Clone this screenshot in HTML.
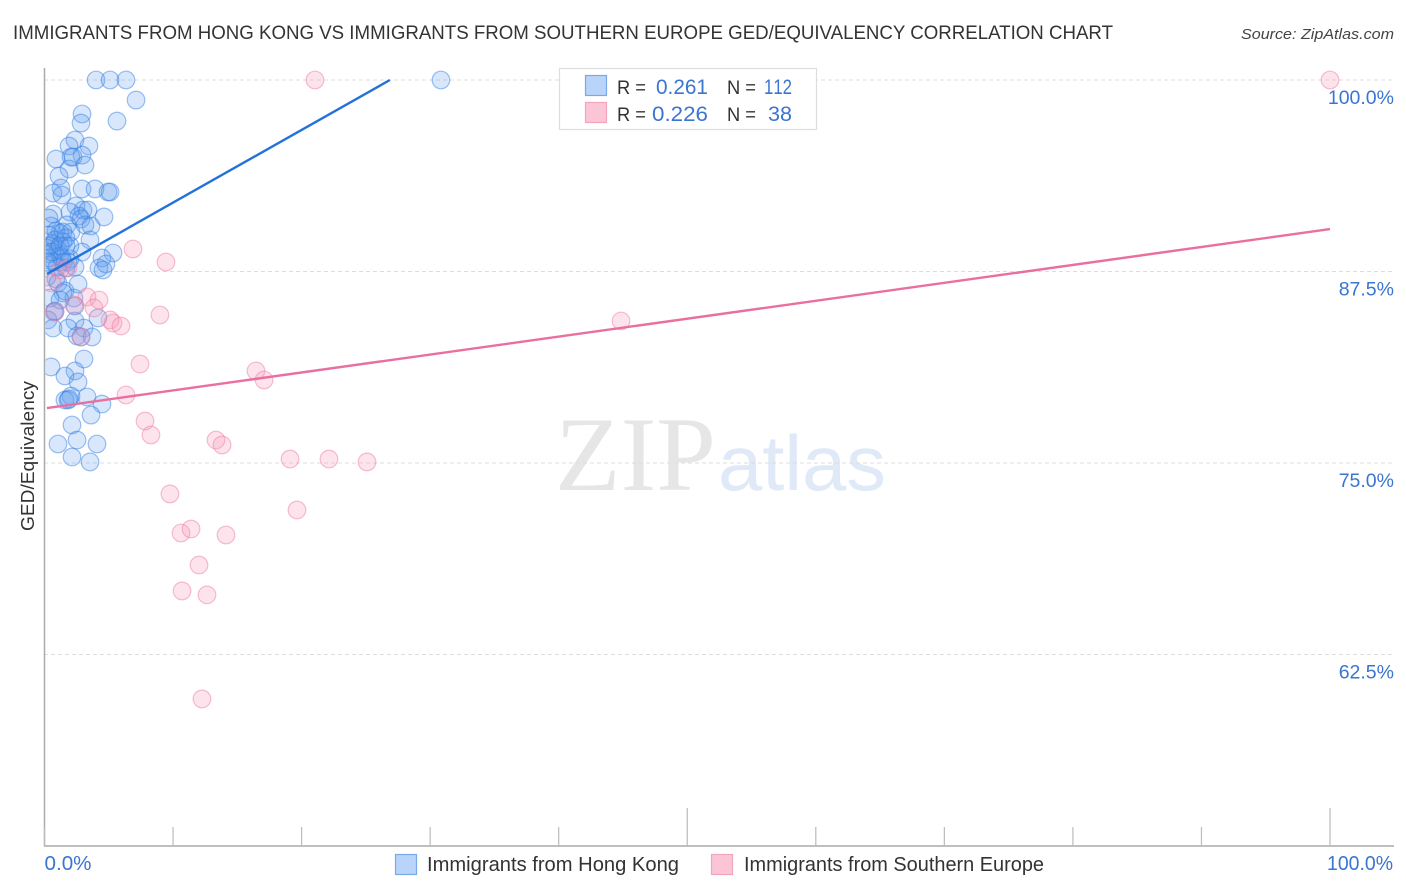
<!DOCTYPE html>
<html lang="en">
<head>
<meta charset="utf-8">
<title>GED/Equivalency Correlation Chart</title>
<style>
html,body{margin:0;padding:0;background:#fff;width:1406px;height:892px;overflow:hidden}
svg{display:block;font-family:"Liberation Sans",sans-serif}
</style>
</head>
<body>
<svg id="chart" width="1406" height="892" viewBox="0 0 1406 892" xmlns="http://www.w3.org/2000/svg">
  <defs>
    <clipPath id="plot-clip"><rect x="45.5" y="0" width="1360" height="846"/></clipPath>
  </defs>
  <rect width="1406" height="892" fill="#fff"/>
  <text x="13" y="39" font-size="19.5" fill="#333" textLength="1100" lengthAdjust="spacingAndGlyphs">IMMIGRANTS FROM HONG KONG VS IMMIGRANTS FROM SOUTHERN EUROPE GED/EQUIVALENCY CORRELATION CHART</text>
  <text x="1394" y="39" font-size="15" font-style="italic" fill="#444" text-anchor="end" textLength="153" lengthAdjust="spacingAndGlyphs">Source: ZipAtlas.com</text>
  <text x="555" y="490" font-family="'Liberation Serif',serif" font-size="106" fill="#e6e6e6" textLength="161" lengthAdjust="spacingAndGlyphs">ZIP</text>
  <text x="718" y="490" font-size="78" fill="#dfe9f7" textLength="168" lengthAdjust="spacingAndGlyphs">atlas</text>
  <g id="grid"></g>
  <g id="axes">
    <line x1="44.5" y1="68" x2="44.5" y2="846" stroke="#aaa" stroke-width="1.5"/>
    <line x1="44" y1="846" x2="1394" y2="846" stroke="#aaa" stroke-width="1.5"/>
  </g>
  <g id="x-ticks"></g>
  <g id="y-labels"></g>
  <g id="x-labels"></g>
  <g id="points-hk" clip-path="url(#plot-clip)"></g>
  <g id="points-se" clip-path="url(#plot-clip)"></g>
  <g id="trends"></g>
  <text transform="translate(34 456) rotate(-90)" font-size="18" fill="#333" text-anchor="middle" textLength="150" lengthAdjust="spacingAndGlyphs">GED/Equivalency</text>

  <g>
    <rect x="559.5" y="68.5" width="257" height="61" fill="#fff" stroke="#ddd" stroke-width="1.2"/>
    <rect x="585.5" y="75.5" width="21" height="20" fill="#b8d4f8" stroke="#7aaae6" stroke-width="1.2"/>
    <rect x="585.5" y="102.5" width="21" height="20" fill="#fcc5d6" stroke="#f2a6be" stroke-width="1.2"/>
    <text x="617" y="94" font-size="19.5" fill="#333" textLength="29" lengthAdjust="spacingAndGlyphs">R =</text>
    <text x="656" y="94" font-size="21.5" fill="#3a75d0" textLength="52" lengthAdjust="spacingAndGlyphs">0.261</text>
    <text x="727" y="94" font-size="19.5" fill="#333" textLength="29" lengthAdjust="spacingAndGlyphs">N =</text>
    <text x="764" y="94" font-size="21.5" fill="#3a75d0" style="font-kerning:none" textLength="28" lengthAdjust="spacingAndGlyphs">112</text>
    <text x="617" y="121" font-size="19.5" fill="#333" textLength="29" lengthAdjust="spacingAndGlyphs">R =</text>
    <text x="652" y="121" font-size="21.5" fill="#3a75d0" textLength="56" lengthAdjust="spacingAndGlyphs">0.226</text>
    <text x="727" y="121" font-size="19.5" fill="#333" textLength="29" lengthAdjust="spacingAndGlyphs">N =</text>
    <text x="768" y="121" font-size="21.5" fill="#3a75d0" textLength="24" lengthAdjust="spacingAndGlyphs">38</text>
  </g>

  <g>
    <rect x="395.5" y="854.5" width="21" height="20" fill="#b8d4f8" stroke="#7aaae6" stroke-width="1.2"/>
    <text x="427" y="871" font-size="20" fill="#333" textLength="252" lengthAdjust="spacingAndGlyphs">Immigrants from Hong Kong</text>
    <rect x="711.5" y="854.5" width="21" height="20" fill="#fcc5d6" stroke="#f2a6be" stroke-width="1.2"/>
    <text x="744" y="871" font-size="20" fill="#333" textLength="300" lengthAdjust="spacingAndGlyphs">Immigrants from Southern Europe</text>
  </g>
</svg>
<script>
const yTickValues = [100, 87.5, 75, 62.5];
const yTickLabels = ["100.0%", "87.5%", "75.0%", "62.5%"];
const xTickValues = [0, 10, 20, 30, 40, 50, 60, 70, 80, 90, 100];
const xEndLabels = ["0.0%", "100.0%"];

const hkX = [4.01,5.10,6.34,30.84,7.12,5.64,2.92,2.84,2.37,3.46,1.91,2.92,2.06,2.22,0.89,3.15,1.91,1.13,2.92,3.93,1.28,4.94,5.10,0.66,1.36,2.45,2.99,3.38,1.98,0.66,0.35,4.63,2.68,2.84,1.75,3.15,3.62,0.51,0.89,1.21,2.06,0.35,1.44,3.54,1.44,0.66,1.67,0.43,1.05,2.92,5.33,0.35,1.21,1.98,4.47,0.74,1.44,1.83,4.78,2.37,4.24,4.55,0.97,0.35,0.89,0.19,2.61,1.05,1.59,1.44,0.43,2.29,1.21,2.37,0.82,0.74,4.16,2.37,0.27,0.66,1.83,3.07,2.53,3.70,2.84,3.07,0.51,2.37,1.59,2.61,2.06,1.59,1.83,1.91,3.31,4.47,3.62,2.14,1.05,2.53,4.08,2.14,3.54,0.19,0.82,1.36,0.58,1.67,1.21,0.27,1.98,1.67];
const hkY = [100,100,100,100,98.69,97.32,97.78,97.19,96.08,95.69,95.69,95.10,94.97,94.97,94.84,94.45,94.19,93.73,92.89,92.89,92.95,92.69,92.69,92.62,92.49,91.78,91.51,91.51,91.38,91.25,90.99,91.06,91.12,90.93,90.54,90.54,90.47,90.47,90.14,90.01,90.08,89.88,90.08,89.56,89.43,89.30,89.17,89.17,88.90,88.77,88.71,88.64,88.51,88.32,88.38,88.12,88.12,88.12,87.99,87.79,87.73,87.60,87.79,88.38,87.01,87.14,86.68,86.75,86.23,86.10,85.77,85.77,85.64,85.25,84.92,84.86,84.47,84.27,84.34,83.81,83.81,83.81,83.29,83.23,83.23,81.79,81.27,81.01,80.68,80.29,79.37,79.11,79.11,79.18,79.31,78.85,78.13,77.48,76.24,76.50,76.24,75.39,75.07,89.03,89.56,88.38,88.77,89.69,89.17,88.12,89.17,87.73];

const seX = [21.04,100,6.88,9.45,1.21,1.83,0.58,3.31,4.24,2.29,3.85,8.98,5.10,5.33,5.95,0.82,2.84,44.85,7.43,16.45,17.08,6.34,7.82,8.28,13.34,13.81,19.10,22.13,25.09,9.76,19.64,10.62,11.40,14.12,12.02,10.70,12.64,12.25];
const seY = [100,100,88.97,88.12,87.60,87.73,86.75,85.84,85.64,85.31,85.12,84.66,84.34,84.14,83.94,84.86,83.23,84.27,81.46,81.01,80.42,79.44,77.74,76.83,76.50,76.18,75.26,75.26,75.07,72.98,71.93,70.43,70.69,70.30,68.34,66.65,66.39,59.60];

const hkTrendX = [0.19, 26.87];
const hkTrendY = [87.34, 100];
const seTrendX = [0.19, 100];
const seTrendY = [78.59, 90.27];

const NS = "http://www.w3.org/2000/svg";
function sx(v) { return 44.5 + v * 12.855; }
function sy(v) { return 80 + (100 - v) * 15.32; }
function make(tag, parentId) {
  const el = document.createElementNS(NS, tag);
  document.getElementById(parentId).appendChild(el);
  return el;
}

yTickValues.forEach(function (v, i) {
  const line = make("line", "grid");
  
  
  line.setAttribute("x1", 44);
  line.setAttribute("x2", 1394);
  line.setAttribute("y1", sy(v));
  line.setAttribute("y2", sy(v));
  line.setAttribute("stroke", "#ddd");
  line.setAttribute("stroke-width", "1");
  line.setAttribute("stroke-dasharray", "4 3");
  const t = make("text", "y-labels");
  
  
  t.setAttribute("x", 1394);
  t.setAttribute("y", sy(v) + 24);
  t.setAttribute("text-anchor", "end");
  t.setAttribute("font-size", "19.5");
  t.setAttribute("fill", "#3a75d0");
  t.textContent = yTickLabels[i];
});

xTickValues.forEach(function (v) {
  const tick = make("line", "x-ticks");
  
  
  tick.setAttribute("x1", sx(v));
  tick.setAttribute("x2", sx(v));
  tick.setAttribute("y1", (v === 50 || v === 100) ? 808 : 827);
  tick.setAttribute("y2", 846);
  tick.setAttribute("stroke", "#bbb");
  tick.setAttribute("stroke-width", "1.2");
});

const xStart = make("text", "x-labels");


xStart.setAttribute("x", sx(0));
xStart.setAttribute("y", 870);
xStart.setAttribute("font-size", "20");
xStart.setAttribute("fill", "#3a75d0");
xStart.setAttribute("textLength", "47");
xStart.setAttribute("lengthAdjust", "spacingAndGlyphs");
xStart.textContent = xEndLabels[0];

const xEnd = make("text", "x-labels");


xEnd.setAttribute("x", 1327);
xEnd.setAttribute("y", 870);
xEnd.setAttribute("font-size", "20");
xEnd.setAttribute("fill", "#3a75d0");
xEnd.setAttribute("textLength", "66");
xEnd.setAttribute("lengthAdjust", "spacingAndGlyphs");
xEnd.textContent = xEndLabels[1];

hkX.forEach(function (x, i) {
  const c = make("circle", "points-hk");
  
  
  c.setAttribute("cx", sx(x));
  c.setAttribute("cy", sy(hkY[i]));
  c.setAttribute("r", 8.8);
  c.setAttribute("fill", "rgba(90,155,240,0.24)");
  c.setAttribute("stroke", "rgba(50,125,225,0.48)");
  c.setAttribute("stroke-width", "1.2");
});

seX.forEach(function (x, i) {
  const c = make("circle", "points-se");
  
  
  c.setAttribute("cx", sx(x));
  c.setAttribute("cy", sy(seY[i]));
  c.setAttribute("r", 8.8);
  c.setAttribute("fill", "rgba(248,150,182,0.26)");
  c.setAttribute("stroke", "rgba(238,125,165,0.5)");
  c.setAttribute("stroke-width", "1.2");
});

const hkLine = make("line", "trends");


hkLine.setAttribute("x1", sx(hkTrendX[0]));
hkLine.setAttribute("y1", sy(hkTrendY[0]));
hkLine.setAttribute("x2", sx(hkTrendX[1]));
hkLine.setAttribute("y2", sy(hkTrendY[1]));
hkLine.setAttribute("stroke", "#2272d9");
hkLine.setAttribute("stroke-width", "2.4");

const seLine = make("line", "trends");


seLine.setAttribute("x1", sx(seTrendX[0]));
seLine.setAttribute("y1", sy(seTrendY[0]));
seLine.setAttribute("x2", sx(seTrendX[1]));
seLine.setAttribute("y2", sy(seTrendY[1]));
seLine.setAttribute("stroke", "#e96f9f");
seLine.setAttribute("stroke-width", "2.4");
</script>
</body>
</html>
